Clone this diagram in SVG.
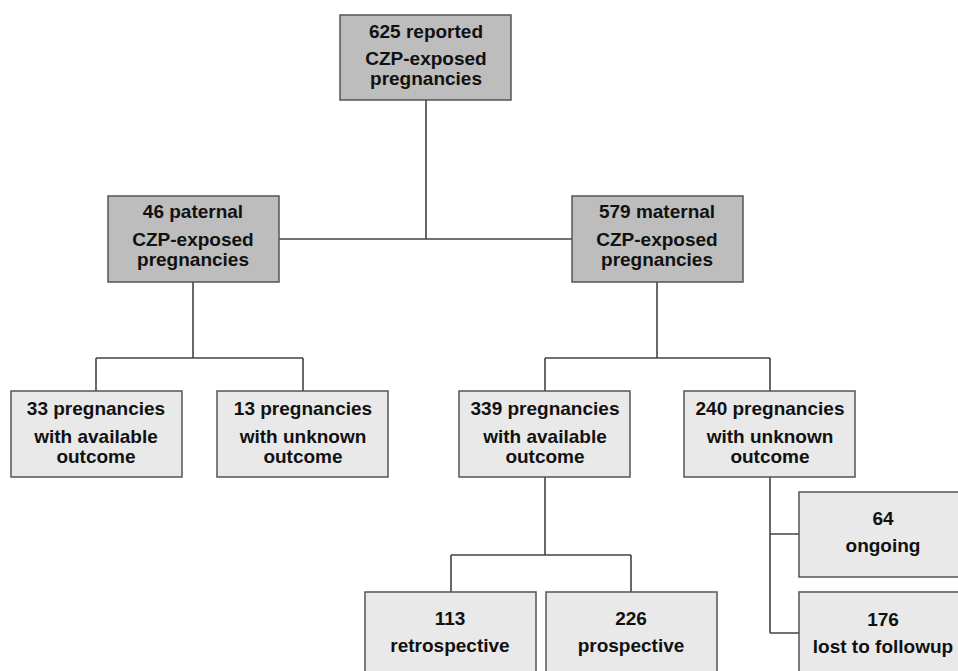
<svg xmlns="http://www.w3.org/2000/svg" width="958" height="671" viewBox="0 0 958 671">
<style>
.d{fill:#bdbdbd;stroke:#555;stroke-width:1.5}
.l{fill:#e9e9e9;stroke:#555;stroke-width:1.5}
text{font-family:"Liberation Sans",Arial,sans-serif;font-weight:bold;font-size:19px;fill:#111;text-anchor:middle}
.c{fill:none;stroke:#444;stroke-width:1.6}
</style>
<rect width="958" height="671" fill="#fff"/>
<g id="connectors" class="c">
<path d="M426,100V239M279,239H572"/>
<path d="M193,282V358M96,358H303M96,358V391M303,358V391"/>
<path d="M657,282V358M545,358H770M545,358V391M770,358V391"/>
<path d="M545,477V555M451,555H631M451,555V592M631,555V592"/>
<path d="M770,477V633M770,534H799M770,633H799"/>
</g>
<g id="n625"><rect class="d" x="340" y="15" width="171" height="85"/><text x="426" y="38">625 reported</text><text x="426" y="65">CZP-exposed</text><text x="426" y="85">pregnancies</text></g>
<g id="n46"><rect class="d" x="108" y="196" width="171" height="86"/><text x="193" y="218">46 paternal</text><text x="193" y="246">CZP-exposed</text><text x="193" y="266">pregnancies</text></g>
<g id="n579"><rect class="d" x="572" y="196" width="171" height="86"/><text x="657" y="218">579 maternal</text><text x="657" y="246">CZP-exposed</text><text x="657" y="266">pregnancies</text></g>
<g id="n33"><rect class="l" x="11" y="391" width="171" height="86"/><text x="96" y="415">33 pregnancies</text><text x="96" y="443">with available</text><text x="96" y="463">outcome</text></g>
<g id="n13"><rect class="l" x="217" y="391" width="171" height="86"/><text x="303" y="415">13 pregnancies</text><text x="303" y="443">with unknown</text><text x="303" y="463">outcome</text></g>
<g id="n339"><rect class="l" x="459" y="391" width="171" height="86"/><text x="545" y="415">339 pregnancies</text><text x="545" y="443">with available</text><text x="545" y="463">outcome</text></g>
<g id="n240"><rect class="l" x="684" y="391" width="171" height="86"/><text x="770" y="415">240 pregnancies</text><text x="770" y="443">with unknown</text><text x="770" y="463">outcome</text></g>
<g id="n113"><rect class="l" x="365" y="592" width="171" height="90"/><text x="450" y="625">113</text><text x="450" y="652">retrospective</text></g>
<g id="n226"><rect class="l" x="546" y="592" width="171" height="90"/><text x="631" y="625">226</text><text x="631" y="652">prospective</text></g>
<g id="n64"><rect class="l" x="799" y="492" width="171" height="85"/><text x="883" y="525">64</text><text x="883" y="552">ongoing</text></g>
<g id="n176"><rect class="l" x="799" y="592" width="171" height="90"/><text x="883" y="626">176</text><text x="883" y="653">lost to followup</text></g>
</svg>
